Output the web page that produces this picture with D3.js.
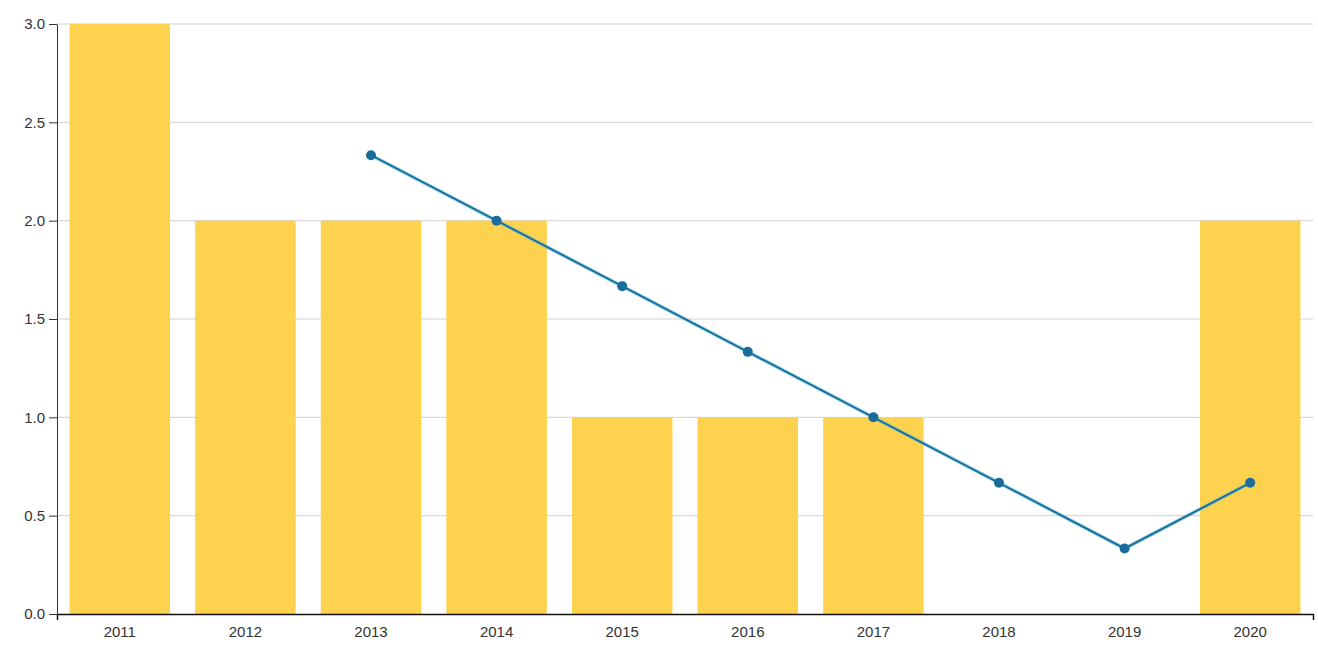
<!DOCTYPE html>
<html>
<head>
<meta charset="utf-8">
<script src="https://cdn.jsdelivr.net/npm/d3@7"></script>
<style>
  html, body { margin: 0; padding: 0; background: #fff; }
  svg { display: block; }
  .tick text { font-family: "Liberation Sans", Arial, sans-serif; font-size: 15px; fill: #333; }
</style>
</head>
<body>
<svg id="chart" width="1318" height="645"></svg>
<script>
// Yearly counts (bars)
const years = ["2011", "2012", "2013", "2014", "2015", "2016", "2017", "2018", "2019", "2020"];
const counts = [3, 2, 2, 2, 1, 1, 1, 0, 0, 2];
// Three-year rolling average (line), starting 2013
const avgYears = ["2013", "2014", "2015", "2016", "2017", "2018", "2019", "2020"];
const avgValues = [2.333, 2.0, 1.667, 1.333, 1.0, 0.667, 0.333, 0.667];
const yTicks = [0, 0.5, 1, 1.5, 2, 2.5, 3];

const width = 1318, height = 645;
const margin = { top: 24, right: 5, bottom: 31, left: 57 };

const svg = d3.select("#chart");

const x = d3.scaleBand()
  .domain(years)
  .range([margin.left, width - margin.right])
  .paddingInner(0.2)
  .paddingOuter(0.1);

const y = d3.scaleLinear()
  .domain([0, 3])
  .range([height - margin.bottom, margin.top]);

// Horizontal gridlines
svg.append("g")
  .selectAll("line")
  .data(yTicks.filter(d => d > 0))
  .join("line")
  .attr("x1", margin.left)
  .attr("x2", width - margin.right)
  .attr("y1", d => y(d))
  .attr("y2", d => y(d))
  .attr("stroke", "#d0d0d0")
  .attr("stroke-width", 1);

// Bars
svg.append("g")
  .selectAll("rect")
  .data(years.map((yr, i) => ({ yr, v: counts[i] })))
  .join("rect")
  .attr("x", d => x(d.yr))
  .attr("width", x.bandwidth())
  .attr("y", d => y(d.v))
  .attr("height", d => y(0) - y(d.v))
  .attr("fill", "#fdd24f");

// Axes
const xAxis = svg.append("g")
  .attr("transform", `translate(0,${height - margin.bottom})`)
  .call(d3.axisBottom(x).tickSize(6).tickSizeOuter(6));
xAxis.selectAll(".tick line").remove();
xAxis.select(".domain").attr("stroke", "#111").attr("stroke-width", 1.5);
xAxis.selectAll(".tick text").attr("dy", "0.95em");

const yAxis = svg.append("g")
  .attr("transform", `translate(${margin.left},0)`)
  .call(d3.axisLeft(y).tickValues(yTicks).tickFormat(d3.format(".1f")).tickSize(8).tickSizeOuter(0).tickPadding(4));
yAxis.select(".domain").attr("stroke", "#333");
yAxis.selectAll(".tick line").attr("stroke", "#333");

// Rolling average line
const line = d3.line()
  .x(d => x(d.yr) + x.bandwidth() / 2)
  .y(d => y(d.v));
const avgData = avgYears.map((yr, i) => ({ yr, v: avgValues[i] }));

svg.append("path")
  .datum(avgData)
  .attr("fill", "none")
  .attr("stroke", "#5bc0de")
  .attr("stroke-opacity", 0.5)
  .attr("stroke-width", 4)
  .attr("d", line);

svg.append("path")
  .datum(avgData)
  .attr("fill", "none")
  .attr("stroke", "#1b6f9c")
  .attr("stroke-width", 2)
  .attr("d", line);

svg.append("g")
  .selectAll("circle")
  .data(avgData)
  .join("circle")
  .attr("cx", d => x(d.yr) + x.bandwidth() / 2)
  .attr("cy", d => y(d.v))
  .attr("r", 5)
  .attr("fill", "#1a6c9a");
</script>
</body>
</html>
